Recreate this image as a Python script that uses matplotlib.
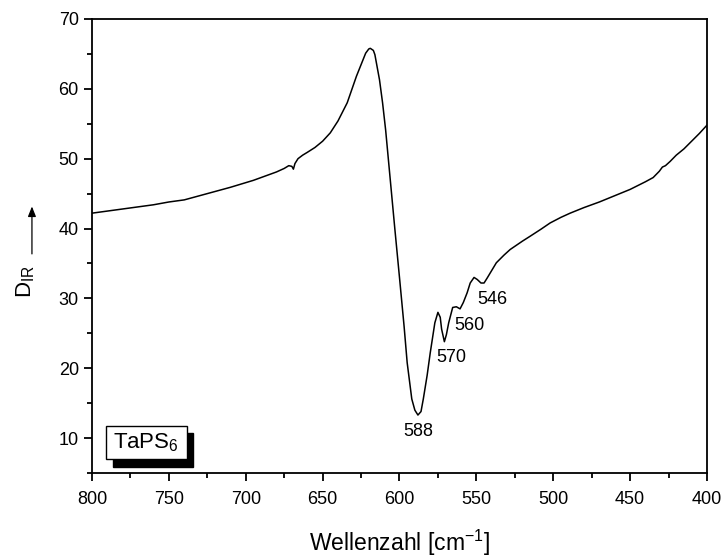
import matplotlib
matplotlib.use('Agg')
import matplotlib.pyplot as plt
from matplotlib.patches import Rectangle, FancyArrowPatch
import numpy as np

plt.rcParams['font.family'] = ['Liberation Sans', 'DejaVu Sans']
plt.rcParams['mathtext.fontset'] = 'custom'
plt.rcParams['mathtext.rm'] = 'Liberation Sans'

# IR spectrum of TaPS6
wavenumber = [800, 780, 760, 750, 740, 730, 720, 710, 704, 695, 690, 680, 675, 672,
              670, 669, 668, 666, 663, 660, 655, 650, 645, 640, 634, 628, 624, 622,
              620, 619, 617, 616, 613, 611, 609, 606, 603, 600, 597, 595, 592, 590,
              588, 586, 584.5, 582, 580, 577, 575, 573.5, 572.6, 570.8, 569.5, 568,
              565.4, 563, 560.6, 558.5, 556, 554, 551.5, 549.4, 547, 545, 543, 540,
              537, 532, 528, 520, 515, 508, 502, 495, 489, 480, 470, 460, 450, 440,
              435, 431, 429, 427, 424, 420, 415, 410, 405, 400]
d_ir = [42.2, 42.8, 43.4, 43.8, 44.1, 44.7, 45.3, 45.9, 46.3, 46.9, 47.3, 48.1, 48.6, 49.0,
        48.9, 48.5, 49.3, 50.0, 50.5, 50.9, 51.6, 52.5, 53.7, 55.4, 58.0, 61.8, 64.0, 65.1,
        65.7, 65.8, 65.5, 64.9, 61.3, 58.0, 54.1, 47.0, 39.9, 33.0, 26.0, 20.8, 15.6, 14.0,
        13.3, 13.8, 15.6, 19.0, 22.2, 26.5, 28.0, 27.3, 25.6, 23.8, 24.8, 26.5,
        28.7, 28.8, 28.5, 29.4, 30.8, 32.2, 33.0, 32.7, 32.2, 32.2, 32.9, 34.0,
        35.1, 36.2, 37.0, 38.2, 38.9, 39.9, 40.8, 41.6, 42.2, 43.0, 43.8, 44.7, 45.6, 46.7,
        47.3, 48.2, 48.8, 49.0, 49.6, 50.5, 51.4, 52.5, 53.6, 54.8]

peak_labels = ['588', '570', '560', '546']
peak_label_x = [588, 566.5, 554.8, 539.5]
peak_label_y = [10.9, 21.6, 26.1, 29.8]

fig = plt.figure(figsize=(7.26, 5.58), dpi=100)
ax = fig.add_axes([0.1267, 0.1523, 0.8471, 0.8137])

ax.plot(wavenumber, d_ir, color='black', linewidth=1.1)

ax.set_xlim(800, 400)
ax.set_ylim(5, 70)
ax.set_xticks(np.arange(800, 399, -50))
ax.set_xticks(np.arange(775, 400, -50), minor=True)
ax.set_yticks(np.arange(10, 71, 10))
ax.set_yticks(np.arange(5, 70, 10), minor=True)

for s in ax.spines.values():
    s.set_linewidth(1.3)
ax.tick_params(which='major', direction='out', length=6, width=1.3, labelsize=13,
               top=False, right=False)
ax.tick_params(axis='x', which='major', pad=7)
ax.tick_params(which='minor', direction='out', length=3.5, width=1.3,
               top=False, right=False)

for lab, x, y in zip(peak_labels, peak_label_x, peak_label_y):
    ax.text(x, y, lab, fontsize=13, ha='center', va='center')

ax.set_xlabel(r'Wellenzahl [cm$^{\mathregular{-1}}$]', fontsize=16.5, labelpad=14)

# y label with arrow
fig.text(0.035, 0.495, r'D$_{\mathregular{IR}}$', rotation=90, fontsize=16,
         ha='center', va='center')
fig.patches.append(FancyArrowPatch(
    (0.044, 0.540), (0.044, 0.635), transform=fig.transFigure,
    arrowstyle='-|>,head_length=0.5,head_width=0.2', mutation_scale=12,
    color='black', linewidth=0.9))

# sample label box with shadow
ax.add_patch(Rectangle((0.034, 0.0132), 0.130, 0.0748, transform=ax.transAxes,
                       facecolor='black', edgecolor='black', zorder=3))
ax.add_patch(Rectangle((0.0228, 0.0308), 0.1317, 0.0727, transform=ax.transAxes,
                       facecolor='white', edgecolor='black', linewidth=1.0, zorder=4))
ax.text(0.034, 0.067, r'TaPS$_{\mathregular{6}}$', transform=ax.transAxes, fontsize=16,
        ha='left', va='center', zorder=5)

fig.savefig('out.png', dpi=100)
